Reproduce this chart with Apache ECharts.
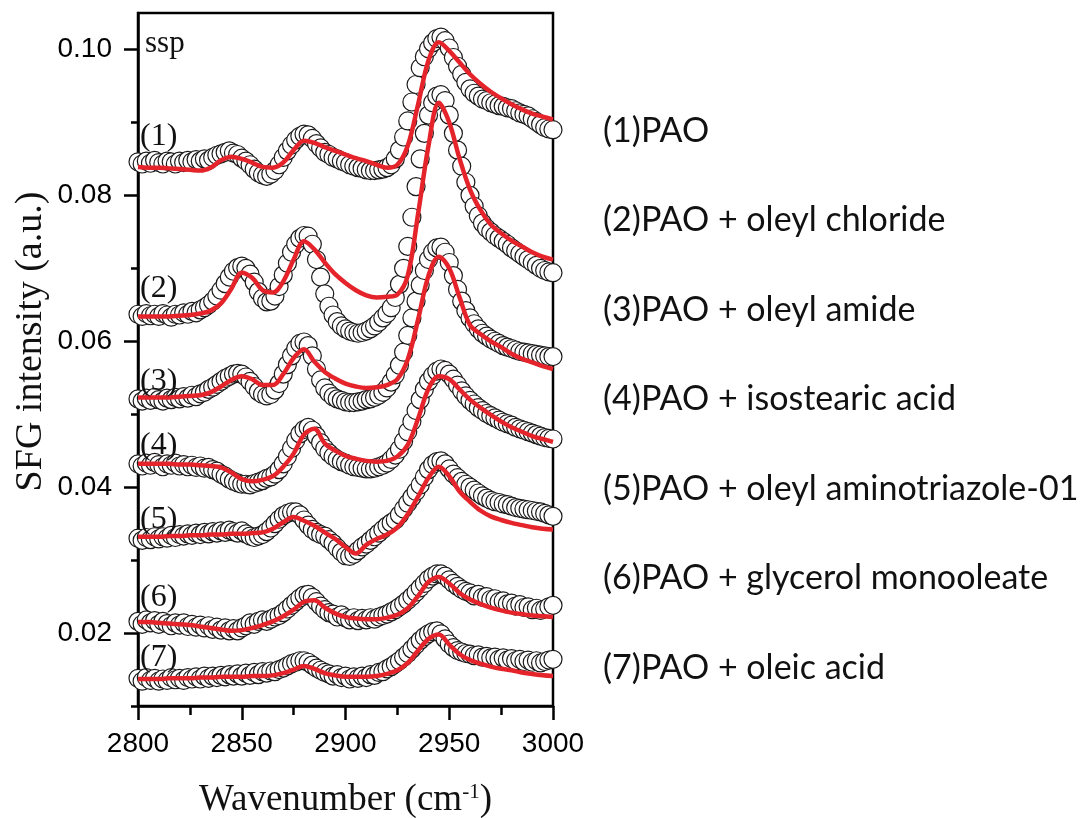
<!DOCTYPE html>
<html>
<head>
<meta charset="utf-8">
<script src="https://cdn.jsdelivr.net/npm/echarts@6/dist/echarts.min.js"></script>
<style>html,body{margin:0;padding:0;background:#fff;}#chart{width:1083px;height:818px;}</style>
</head>
<body>
<div id="chart"></div>
<script>
// x positions (wavenumber, cm-1) of measured points
const wnData = [
2800,2802,2804,2806,2808,2810,2812,2814,2816,2818,
2820,2822,2824,2826,2828,2830,2832,2834,2836,2838,
2840,2842,2844,2846,2848,2850,2852,2854,2856,2858,
2860,2862,2864,2866,2868,2870,2872,2874,2876,2878,
2880,2882,2884,2886,2888,2890,2892,2894,2896,2898,
2900,2902,2904,2906,2908,2910,2912,2914,2916,2918,
2920,2922,2924,2926,2928,2930,2932,2934,2936,2938,
2940,2942,2944,2946,2948,2950,2952,2954,2956,2958,
2960,2962,2964,2966,2968,2970,2972,2974,2976,2978,
2980,2982,2984,2986,2988,2990,2992,2994,2996,2998,
3000];
// x positions of fitted curves
const wnFit = [
2800,2805,2810,2815,2820,2825,2830,2835,2840,2845,
2850,2855,2860,2865,2870,2875,2880,2885,2890,2895,
2900,2905,2910,2915,2920,2925,2930,2935,2940,2945,
2950,2955,2960,2965,2970,2975,2980,2985,2990,2995,
3000];

const seriesNames = ['(1)PAO','(2)PAO + oleyl chloride','(3)PAO + oleyl amide','(4)PAO + isostearic acid',
  '(5)PAO + oleyl aminotriazole-01','(6)PAO + glycerol monooleate','(7)PAO + oleic acid'];
const curveTags = ['(1)','(2)','(3)','(4)','(5)','(6)','(7)'];

const data1 = [
0.0846,0.0843,0.0847,0.0844,0.0848,0.0845,0.0843,0.0847,0.0846,0.0843,
0.0847,0.0845,0.0848,0.0846,0.0849,0.0847,0.0850,0.0848,0.0852,0.0855,
0.0857,0.0859,0.0861,0.0858,0.0856,0.0851,0.0847,0.0842,0.0836,0.0831,
0.0828,0.0826,0.0829,0.0834,0.0842,0.0852,0.0861,0.0869,0.0876,0.0881,
0.0884,0.0883,0.0878,0.0871,0.0865,0.0859,0.0856,0.0852,0.0850,0.0847,
0.0845,0.0842,0.0840,0.0838,0.0837,0.0835,0.0834,0.0834,0.0835,0.0836,
0.0838,0.0842,0.0850,0.0862,0.0880,0.0902,0.0928,0.0952,0.0975,0.0990,
0.1001,0.1009,0.1015,0.1017,0.1012,0.1002,0.0989,0.0977,0.0966,0.0955,
0.0946,0.0940,0.0936,0.0932,0.0930,0.0927,0.0925,0.0923,0.0922,0.0920,
0.0919,0.0916,0.0913,0.0911,0.0909,0.0905,0.0901,0.0897,0.0893,0.0891,
0.0890];
const fit1 = [
0.0839,0.0838,0.0838,0.0837,0.0836,0.0835,0.0834,0.0838,0.0848,0.0853,
0.0850,0.0845,0.0839,0.0838,0.0845,0.0862,0.0875,0.0872,0.0866,0.0861,
0.0856,0.0851,0.0847,0.0842,0.0838,0.0842,0.0868,0.0925,0.0985,0.1010,
0.0998,0.0982,0.0966,0.0953,0.0942,0.0933,0.0925,0.0918,0.0912,0.0908,
0.0904];

const data2 = [
0.0637,0.0634,0.0638,0.0635,0.0637,0.0634,0.0638,0.0636,0.0633,0.0637,
0.0636,0.0639,0.0637,0.0641,0.0639,0.0643,0.0646,0.0650,0.0655,0.0662,
0.0670,0.0679,0.0688,0.0696,0.0701,0.0703,0.0700,0.0692,0.0681,0.0668,
0.0659,0.0654,0.0655,0.0662,0.0675,0.0691,0.0707,0.0722,0.0733,0.0741,
0.0745,0.0744,0.0733,0.0712,0.0688,0.0665,0.0648,0.0636,0.0627,0.0621,
0.0617,0.0614,0.0612,0.0611,0.0612,0.0614,0.0617,0.0621,0.0626,0.0632,
0.0638,0.0646,0.0660,0.0678,0.0700,0.0730,0.0770,0.0812,0.0850,0.0885,
0.0910,0.0927,0.0936,0.0938,0.0930,0.0910,0.0885,0.0862,0.0840,0.0818,
0.0800,0.0785,0.0772,0.0762,0.0755,0.0750,0.0745,0.0741,0.0737,0.0733,
0.0728,0.0724,0.0720,0.0716,0.0712,0.0708,0.0704,0.0700,0.0697,0.0695,
0.0694];
const fit2 = [
0.0634,0.0634,0.0634,0.0634,0.0635,0.0636,0.0638,0.0642,0.0652,0.0672,
0.0694,0.0687,0.0670,0.0667,0.0682,0.0712,0.0737,0.0726,0.0708,0.0692,
0.0680,0.0670,0.0663,0.0660,0.0661,0.0664,0.0690,0.0775,0.0868,0.0927,
0.0900,0.0850,0.0808,0.0780,0.0760,0.0748,0.0738,0.0730,0.0722,0.0716,
0.0712];

const data3 = [
0.0521,0.0518,0.0522,0.0519,0.0523,0.0520,0.0518,0.0522,0.0520,0.0523,
0.0521,0.0524,0.0522,0.0526,0.0524,0.0528,0.0530,0.0534,0.0537,0.0541,
0.0545,0.0549,0.0552,0.0555,0.0556,0.0555,0.0551,0.0545,0.0538,0.0531,
0.0527,0.0525,0.0527,0.0533,0.0542,0.0555,0.0568,0.0580,0.0590,0.0597,
0.0599,0.0594,0.0580,0.0562,0.0547,0.0536,0.0529,0.0524,0.0521,0.0519,
0.0517,0.0516,0.0516,0.0517,0.0518,0.0520,0.0521,0.0523,0.0526,0.0530,
0.0536,0.0544,0.0554,0.0567,0.0585,0.0608,0.0632,0.0655,0.0677,0.0697,
0.0712,0.0722,0.0728,0.0729,0.0722,0.0708,0.0690,0.0671,0.0655,0.0642,
0.0632,0.0624,0.0617,0.0611,0.0607,0.0603,0.0600,0.0597,0.0594,0.0592,
0.0590,0.0588,0.0586,0.0585,0.0584,0.0583,0.0582,0.0581,0.0580,0.0579,
0.0579];
const fit3 = [
0.0523,0.0523,0.0523,0.0523,0.0524,0.0525,0.0526,0.0530,0.0538,0.0547,
0.0552,0.0548,0.0540,0.0540,0.0555,0.0577,0.0589,0.0572,0.0558,0.0549,
0.0542,0.0538,0.0536,0.0537,0.0540,0.0548,0.0575,0.0630,0.0690,0.0716,
0.0700,0.0660,0.0622,0.0610,0.0600,0.0592,0.0583,0.0576,0.0571,0.0566,
0.0562];

const data4 = [
0.0432,0.0429,0.0433,0.0430,0.0434,0.0431,0.0428,0.0432,0.0430,0.0433,
0.0429,0.0431,0.0428,0.0430,0.0427,0.0429,0.0426,0.0427,0.0424,0.0422,
0.0418,0.0415,0.0411,0.0408,0.0406,0.0404,0.0404,0.0403,0.0405,0.0407,
0.0409,0.0412,0.0414,0.0418,0.0424,0.0432,0.0442,0.0453,0.0464,0.0473,
0.0479,0.0482,0.0478,0.0470,0.0461,0.0453,0.0447,0.0442,0.0438,0.0435,
0.0433,0.0430,0.0428,0.0427,0.0426,0.0425,0.0425,0.0426,0.0428,0.0430,
0.0433,0.0438,0.0444,0.0452,0.0463,0.0476,0.0490,0.0505,0.0520,0.0534,
0.0545,0.0553,0.0559,0.0562,0.0560,0.0555,0.0548,0.0540,0.0532,0.0525,
0.0519,0.0514,0.0509,0.0505,0.0501,0.0498,0.0495,0.0492,0.0489,0.0487,
0.0485,0.0482,0.0480,0.0478,0.0476,0.0474,0.0472,0.0470,0.0468,0.0467,
0.0466];
const fit4 = [
0.0432,0.0432,0.0432,0.0432,0.0431,0.0431,0.0430,0.0429,0.0427,0.0420,
0.0411,0.0408,0.0410,0.0415,0.0428,0.0446,0.0472,0.0480,0.0460,0.0450,
0.0443,0.0439,0.0436,0.0435,0.0436,0.0442,0.0458,0.0494,0.0535,0.0552,
0.0548,0.0534,0.0520,0.0509,0.0499,0.0490,0.0482,0.0476,0.0470,0.0466,
0.0462];

const data5 = [
0.0330,0.0327,0.0331,0.0328,0.0332,0.0329,0.0332,0.0330,0.0334,0.0331,
0.0335,0.0333,0.0336,0.0334,0.0337,0.0335,0.0338,0.0336,0.0339,0.0337,
0.0340,0.0338,0.0341,0.0339,0.0337,0.0340,0.0336,0.0333,0.0331,0.0333,
0.0335,0.0339,0.0344,0.0350,0.0356,0.0361,0.0364,0.0366,0.0366,0.0362,
0.0355,0.0348,0.0342,0.0338,0.0335,0.0333,0.0328,0.0323,0.0317,0.0311,
0.0306,0.0305,0.0308,0.0313,0.0318,0.0322,0.0327,0.0332,0.0337,0.0342,
0.0347,0.0351,0.0355,0.0362,0.0370,0.0378,0.0386,0.0394,0.0403,0.0414,
0.0424,0.0431,0.0435,0.0436,0.0432,0.0425,0.0418,0.0413,0.0408,0.0404,
0.0400,0.0396,0.0392,0.0388,0.0385,0.0382,0.0380,0.0379,0.0377,0.0376,
0.0374,0.0372,0.0371,0.0370,0.0369,0.0368,0.0367,0.0366,0.0364,0.0362,
0.0360];
const fit5 = [
0.0332,0.0332,0.0332,0.0333,0.0333,0.0334,0.0334,0.0335,0.0335,0.0336,
0.0336,0.0337,0.0338,0.0343,0.0352,0.0359,0.0354,0.0347,0.0338,0.0329,
0.0318,0.0309,0.0321,0.0329,0.0335,0.0345,0.0363,0.0387,0.0413,0.0428,
0.0415,0.0394,0.0380,0.0368,0.0360,0.0355,0.0351,0.0348,0.0345,0.0343,
0.0342];

const data6 = [
0.0216,0.0212,0.0218,0.0214,0.0217,0.0212,0.0216,0.0213,0.0210,0.0214,
0.0211,0.0214,0.0209,0.0212,0.0208,0.0211,0.0207,0.0210,0.0205,0.0208,
0.0204,0.0207,0.0203,0.0206,0.0203,0.0207,0.0210,0.0214,0.0212,0.0216,
0.0218,0.0216,0.0219,0.0222,0.0224,0.0228,0.0233,0.0238,0.0243,0.0248,
0.0252,0.0253,0.0249,0.0243,0.0237,0.0232,0.0228,0.0226,0.0222,0.0225,
0.0221,0.0218,0.0221,0.0217,0.0220,0.0218,0.0221,0.0219,0.0222,0.0224,
0.0226,0.0229,0.0232,0.0236,0.0240,0.0245,0.0250,0.0256,0.0262,0.0268,
0.0274,0.0278,0.0281,0.0281,0.0278,0.0273,0.0268,0.0264,0.0260,0.0257,
0.0255,0.0251,0.0253,0.0249,0.0250,0.0246,0.0247,0.0243,0.0244,0.0240,
0.0241,0.0237,0.0239,0.0235,0.0236,0.0232,0.0234,0.0231,0.0233,0.0236,
0.0238];
const fit6 = [
0.0215,0.0215,0.0214,0.0213,0.0212,0.0211,0.0209,0.0207,0.0205,0.0203,
0.0204,0.0207,0.0211,0.0216,0.0223,0.0232,0.0243,0.0245,0.0235,0.0227,
0.0222,0.0220,0.0219,0.0219,0.0221,0.0225,0.0234,0.0251,0.0270,0.0277,
0.0268,0.0255,0.0246,0.0240,0.0235,0.0231,0.0228,0.0226,0.0224,0.0223,
0.0222];

const data7 = [
0.0138,0.0134,0.0139,0.0135,0.0138,0.0134,0.0137,0.0135,0.0139,0.0136,
0.0138,0.0135,0.0139,0.0137,0.0140,0.0137,0.0141,0.0138,0.0141,0.0139,
0.0142,0.0140,0.0143,0.0141,0.0144,0.0141,0.0145,0.0142,0.0146,0.0143,
0.0147,0.0145,0.0148,0.0147,0.0150,0.0152,0.0155,0.0158,0.0160,0.0162,
0.0162,0.0160,0.0156,0.0152,0.0149,0.0146,0.0144,0.0141,0.0143,0.0139,
0.0141,0.0137,0.0140,0.0138,0.0141,0.0139,0.0143,0.0142,0.0146,0.0147,
0.0151,0.0154,0.0158,0.0162,0.0167,0.0172,0.0178,0.0184,0.0190,0.0195,
0.0199,0.0202,0.0203,0.0199,0.0192,0.0185,0.0180,0.0176,0.0174,0.0172,
0.0171,0.0169,0.0170,0.0167,0.0168,0.0166,0.0167,0.0164,0.0166,0.0163,
0.0165,0.0162,0.0164,0.0161,0.0163,0.0160,0.0162,0.0159,0.0161,0.0163,
0.0164];
const fit7 = [
0.0137,0.0137,0.0137,0.0138,0.0138,0.0138,0.0139,0.0139,0.0140,0.0140,
0.0140,0.0141,0.0141,0.0142,0.0145,0.0150,0.0155,0.0151,0.0145,0.0142,
0.0140,0.0140,0.0140,0.0141,0.0144,0.0149,0.0159,0.0176,0.0192,0.0198,
0.0184,0.0171,0.0163,0.0158,0.0154,0.0151,0.0149,0.0146,0.0144,0.0142,
0.0141];

const yMajorTicks = [0.02, 0.04, 0.06, 0.08, 0.10];
const yMinorTicks = [0.01, 0.03, 0.05, 0.07, 0.09];

const allData = [data1, data2, data3, data4, data5, data6, data7];
const allFit = [fit1, fit2, fit3, fit4, fit5, fit6, fit7];

const pair = (xs, ys) => xs.map((x, i) => [x, ys[i]]);

const chart = echarts.init(document.getElementById('chart'), null, {renderer: 'canvas'});

const series = [];
// measured points (open circles), drawn bottom curve first
for (let k = allData.length - 1; k >= 0; k--) {
  series.push({
    type: 'scatter', name: seriesNames[k] + ' data',
    data: pair(wnData, allData[k]),
    symbol: 'circle', symbolSize: 18,
    itemStyle: {color: '#ffffff', borderColor: '#1a1a1a', borderWidth: 1.2, opacity: 1},
    z: 2, silent: true
  });
}
// fitted curves (red)
for (let k = 0; k < allFit.length; k++) {
  series.push({
    type: 'line', name: seriesNames[k] + ' fit',
    data: pair(wnFit, allFit[k]),
    smooth: 0.35, showSymbol: false,
    lineStyle: {color: '#e5232a', width: 4.5},
    z: 5, silent: true
  });
}

const serif = '"Liberation Serif", "DejaVu Serif", serif';
const sans = '"Liberation Sans", Arial, sans-serif';
const rightFont = 'Lato, "Open Sans", sans-serif';

const tagY = [137, 289, 382, 446, 520, 598, 658];
const legendY = [131, 220, 310, 399, 489, 578, 668];

const graphic = [
  {type: 'text', x: 145, y: 44, z: 10,
   style: {text: 'ssp', font: '31px ' + serif, fill: '#111', align: 'left', verticalAlign: 'middle'}}
];
curveTags.forEach((t, i) => graphic.push({
  type: 'text', x: 140, y: tagY[i], z: 10,
  style: {text: t, font: '32px ' + serif, fill: '#111', align: 'left', verticalAlign: 'middle'}
}));
seriesNames.forEach((t, i) => graphic.push({
  type: 'text', x: 603, y: legendY[i], z: 10,
  style: {text: t, font: '34px ' + rightFont, fill: '#111', align: 'left', verticalAlign: 'middle'}
}));

const option = {
  animation: false,
  backgroundColor: '#fff',
  grid: {left: 138, top: 13, width: 415, height: 693, show: true,
         outerBoundsMode: 'none', containLabel: false,
         borderColor: '#000', borderWidth: 2.5, backgroundColor: 'transparent'},
  xAxis: {
    type: 'value', min: 2800, max: 3000, interval: 50,
    axisLine: {show: true, lineStyle: {color: '#000', width: 2.5}},
    axisTick: {show: true, inside: false, length: 14, lineStyle: {color: '#000', width: 2.5}},
    minorTick: {show: true, splitNumber: 2, length: 9, lineStyle: {color: '#000', width: 2.5}},
    splitLine: {show: false}, minorSplitLine: {show: false},
    axisLabel: {fontFamily: sans, fontSize: 28, color: '#000', margin: 24,
                formatter: v => String(v)},
    name: '{a|Wavenumber (cm}{s|-1}{a|)}',
    nameLocation: 'middle', nameGap: 76,
    nameTextStyle: {rich: {
      a: {fontFamily: serif, fontSize: 37, color: '#111'},
      s: {fontFamily: serif, fontSize: 21, color: '#111', verticalAlign: 'top'}
    }}
  },
  yAxis: [{
    type: 'value', min: 0.01, max: 0.105, position: 'left',
    axisLine: {show: true, lineStyle: {color: '#000', width: 2.5}},
    axisTick: {show: true, inside: false, length: 14, customValues: yMajorTicks,
               lineStyle: {color: '#000', width: 2.5}},
    axisLabel: {customValues: yMajorTicks, formatter: v => v.toFixed(2),
                fontFamily: sans, fontSize: 28, color: '#000', margin: 26},
    splitLine: {show: false},
    name: 'SFG intensity (a.u.)', nameLocation: 'middle', nameRotate: 90, nameGap: 88,
    nameTextStyle: {fontFamily: serif, fontSize: 38, color: '#111', padding: [0, 0, 0, 36]}
  }, {
    type: 'value', min: 0.01, max: 0.105, position: 'left', offset: 0,
    axisLine: {show: false},
    axisTick: {show: true, inside: false, length: 7, customValues: yMinorTicks,
               lineStyle: {color: '#000', width: 2.5}},
    axisLabel: {show: false},
    splitLine: {show: false}
  }],
  graphic: graphic,
  series: series
};
chart.setOption(option);
</script>
</body>
</html>
